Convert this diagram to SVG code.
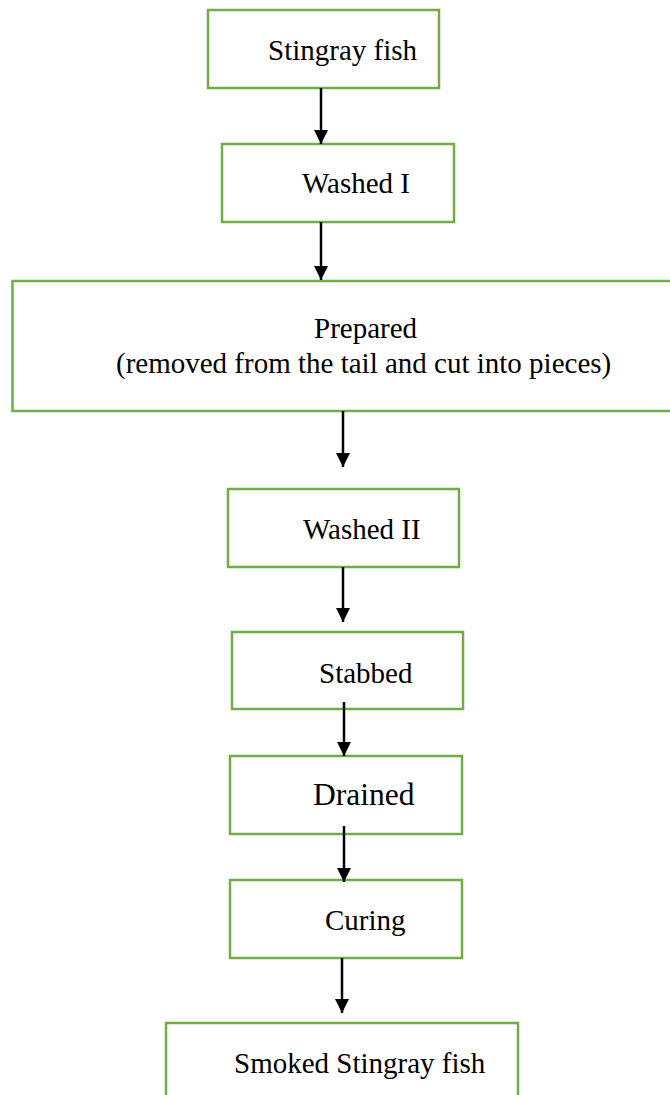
<svg xmlns="http://www.w3.org/2000/svg" width="670" height="1095" viewBox="0 0 670 1095">
<style>
.box{fill:#fff;stroke:#70AD47;stroke-width:2.5}
.t{font-family:"Liberation Serif","Times New Roman",serif;font-size:29px;fill:#000}
.c{stroke:#000;stroke-width:2.5;fill:none}
</style>
<defs>
<marker id="ah" markerUnits="userSpaceOnUse" markerWidth="16" markerHeight="16" viewBox="0 0 16 16" refX="14" refY="8" orient="auto">
<path d="M0,1 L14,8 L0,15 Z" fill="#000"/>
</marker>
</defs>
<rect width="670" height="1095" fill="#fff"/>
<g id="n1"><rect class="box" x="208" y="10" width="231" height="78"/><text class="t" x="268" y="60">Stingray fish</text></g>
<g id="n2"><rect class="box" x="222" y="144" width="232" height="78"/><text class="t" x="302" y="193">Washed I</text></g>
<g id="n3"><rect class="box" x="12.5" y="281" width="700" height="130"/><text class="t" x="314" y="338">Prepared</text><text class="t" x="116" y="373">(removed from the tail and cut into pieces)</text></g>
<g id="n4"><rect class="box" x="228" y="489" width="231" height="78"/><text class="t" x="303" y="539">Washed II</text></g>
<g id="n5"><rect class="box" x="232" y="632" width="231" height="77"/><text class="t" x="319" y="683">Stabbed</text></g>
<g id="n6"><rect class="box" x="230" y="756" width="232" height="78"/><text class="t" x="313" y="805" style="font-size:31.5px">Drained</text></g>
<g id="n7"><rect class="box" x="230" y="880" width="232" height="78"/><text class="t" x="325" y="930">Curing</text></g>
<g id="n8"><rect class="box" x="166" y="1023" width="352" height="100"/><text class="t" x="234" y="1073">Smoked Stingray fish</text></g>
<g id="connectors">
<line class="c" x1="321" y1="88" x2="321" y2="144" marker-end="url(#ah)"/>
<line class="c" x1="321" y1="222" x2="321" y2="280" marker-end="url(#ah)"/>
<line class="c" x1="343" y1="411" x2="343" y2="467" marker-end="url(#ah)"/>
<line class="c" x1="343" y1="567" x2="343" y2="622" marker-end="url(#ah)"/>
<line class="c" x1="344" y1="702" x2="344" y2="756" marker-end="url(#ah)"/>
<line class="c" x1="344" y1="826" x2="344" y2="882" marker-end="url(#ah)"/>
<line class="c" x1="342" y1="958" x2="342" y2="1013" marker-end="url(#ah)"/>
</g>
</svg>
